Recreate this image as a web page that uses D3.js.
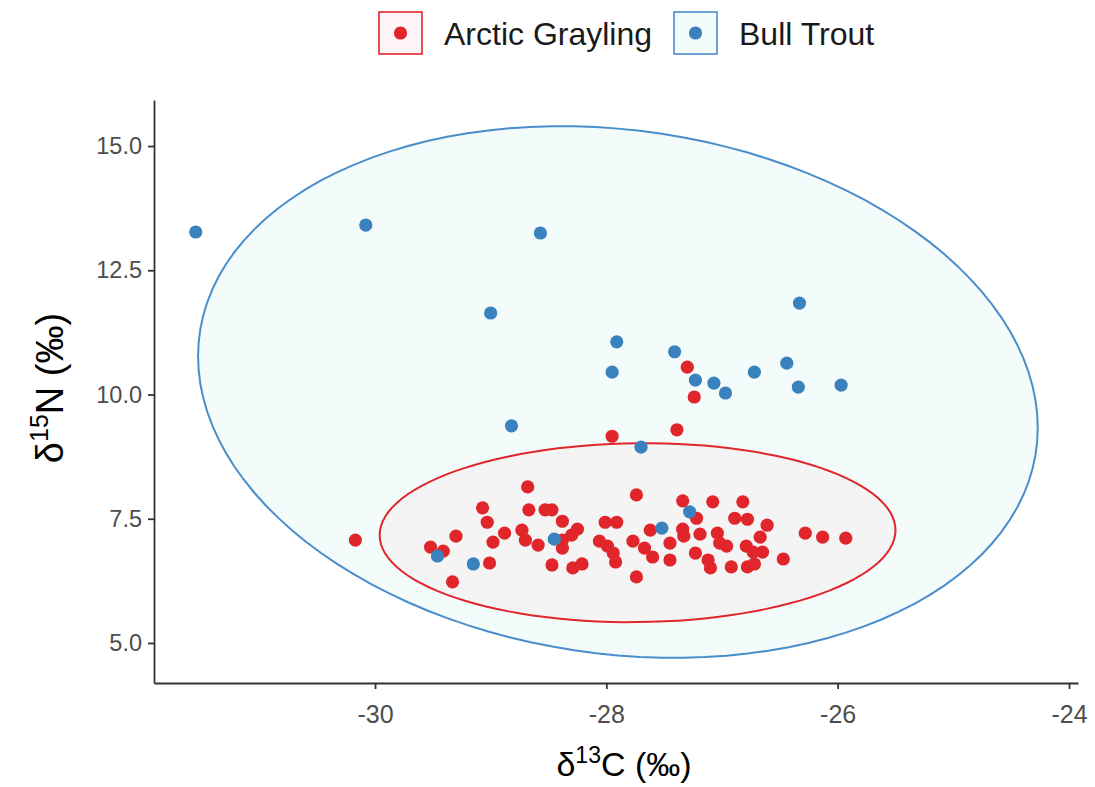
<!DOCTYPE html>
<html>
<head>
<meta charset="utf-8">
<script src="https://cdn.jsdelivr.net/npm/d3@7"></script>
<style>
  body { margin: 0; background: #fff; }
  text { font-family: "Liberation Sans", Arial, sans-serif; }
</style>
</head>
<body>
<svg id="chart" width="1095" height="787"></svg>
<script>
const species = ["Arctic Grayling", "Bull Trout"];
const colors = { "Arctic Grayling": "#E0262B", "Bull Trout": "#3A82BE" };
const strokes = { "Arctic Grayling": "#E0262B", "Bull Trout": "#4A8DCB" };
const keyFill = { "Arctic Grayling": "#FDF5F5", "Bull Trout": "#F3FBFB" };
const ellipseFill = { "Arctic Grayling": "#F4F4F4", "Bull Trout": "#F4FBFB" };

// d13C / d15N
const graylingC = [-30.17, -29.52, -29.41, -29.30, -29.33, -29.01, -28.98, -28.88, -29.07, -29.03,
  -28.68, -28.67, -28.73, -28.70, -28.59, -28.53, -28.47, -28.38, -28.38, -28.38,
  -28.30, -28.25, -28.47, -28.29, -28.21, -28.01, -27.91, -28.06, -27.99, -27.94,
  -27.92, -27.77, -27.74, -27.74, -27.67, -27.62, -27.60, -27.45, -27.45, -27.34,
  -27.22, -27.08, -26.82, -26.89, -26.78, -27.34, -27.33, -27.19, -27.04, -27.23,
  -27.12, -27.10, -27.02, -26.96, -26.92, -26.79, -26.78, -26.73, -26.67, -26.61,
  -26.72, -26.65, -26.47, -26.28, -26.13, -25.93, -27.30, -27.24, -27.95, -27.39];
const graylingN = [7.07, 6.93, 6.85, 7.15, 6.23, 6.61, 7.03, 7.21, 7.72, 7.43,
  8.14, 7.68, 7.27, 7.07, 6.97, 7.68, 7.68, 7.45, 7.07, 6.91,
  7.17, 7.29, 6.57, 6.51, 6.59, 7.43, 7.43, 7.05, 6.95, 6.81,
  6.63, 7.05, 6.33, 7.98, 6.91, 7.27, 6.73, 7.01, 6.67, 7.86,
  7.51, 7.84, 7.84, 7.51, 7.49, 7.29, 7.15, 7.19, 7.21, 6.81,
  6.67, 6.51, 7.01, 6.95, 6.53, 6.95, 6.53, 6.83, 7.13, 7.37,
  6.59, 6.83, 6.69, 7.21, 7.13, 7.11, 10.55, 9.95, 9.16, 9.29];

const troutC = [-31.55, -30.08, -28.57, -29.00, -27.91, -27.95, -27.41, -27.23, -27.07, -26.97,
  -26.72, -26.44, -26.34, -25.97, -26.33, -28.82, -27.70, -28.45, -29.15, -29.46,
  -27.52, -27.28];
const troutN = [13.27, 13.41, 13.25, 11.64, 11.06, 10.45, 10.86, 10.29, 10.23, 10.03,
  10.45, 10.63, 10.15, 10.19, 11.84, 9.37, 8.94, 7.09, 6.59, 6.75,
  7.31, 7.64];

// ellipse per species: centre, x half-width, y offset at x extreme, remaining y half-height
const ellCx = [-27.73, -27.90];
const ellCy = [7.22, 10.05];
const ellA = [2.23, 3.63];
const ellB = [0.05, -0.72];
const ellC = [1.80, 5.30];

const xTicks = [-30, -28, -26, -24];
const yTicks = [5.0, 7.5, 10.0, 12.5, 15.0];

const svg = d3.select("#chart");
const margin = { left: 154, right: 1078, top: 100, bottom: 683 };

const x = d3.scaleLinear().domain([-31.911, -23.922]).range([margin.left, margin.right]);
const y = d3.scaleLinear().domain([4.195, 15.926]).range([margin.bottom, margin.top]);

const points = [];
graylingC.forEach((c, i) => points.push({ sp: "Arctic Grayling", c: c, n: graylingN[i] }));
troutC.forEach((c, i) => points.push({ sp: "Bull Trout", c: c, n: troutN[i] }));

// ellipses, bull trout underneath
const line = d3.line().x(d => x(d[0])).y(d => y(d[1])).curve(d3.curveLinearClosed);
[1, 0].forEach(k => {
  const pts = d3.range(120).map(j => {
    const t = j / 120 * 2 * Math.PI;
    return [ellCx[k] + ellA[k] * Math.cos(t), ellCy[k] + ellB[k] * Math.cos(t) + ellC[k] * Math.sin(t)];
  });
  svg.append("path")
    .attr("d", line(pts))
    .attr("fill", ellipseFill[species[k]])
    .attr("stroke", strokes[species[k]])
    .attr("stroke-width", 2);
});

svg.append("g")
  .selectAll("circle")
  .data(points)
  .enter()
  .append("circle")
  .attr("cx", d => x(d.c))
  .attr("cy", d => y(d.n))
  .attr("r", 6.6)
  .attr("fill", d => colors[d.sp]);

// axes
const xAxis = svg.append("g")
  .attr("transform", `translate(0,${margin.bottom})`)
  .call(d3.axisBottom(x).tickValues(xTicks).tickSize(6).tickSizeOuter(0).tickPadding(16));
const yAxis = svg.append("g")
  .attr("transform", `translate(${margin.left},0)`)
  .call(d3.axisLeft(y).tickValues(yTicks).tickSize(6).tickSizeOuter(0).tickPadding(6).tickFormat(d3.format(".1f")));

[xAxis, yAxis].forEach(a => {
  a.select(".domain").attr("stroke", "#333").attr("stroke-width", 1.8);
  a.selectAll(".tick line").attr("stroke", "#333").attr("stroke-width", 1.8);
  a.selectAll(".tick text").attr("fill", "#4D4D4D")
    .style("font-family", "'Liberation Sans', Arial, sans-serif");
});
xAxis.selectAll(".tick text").style("font-size", "25px").text(d => String(d));
yAxis.selectAll(".tick text").style("font-size", "23.5px");

// axis titles
const xt = svg.append("text")
  .attr("x", 624)
  .attr("y", 776)
  .attr("text-anchor", "middle")
  .style("font-size", "34px")
  .attr("fill", "#000");
xt.append("tspan").text("δ");
xt.append("tspan").attr("dy", -13).style("font-size", "23px").text("13");
xt.append("tspan").attr("dy", 13).text("C (‰)");

const yt = svg.append("text")
  .attr("transform", `translate(63,388) rotate(-90)`)
  .attr("text-anchor", "middle")
  .style("font-size", "38px")
  .attr("fill", "#000");
yt.append("tspan").text("δ");
yt.append("tspan").attr("dy", -15).style("font-size", "25px").text("15");
yt.append("tspan").attr("dy", 15).text("N (‰)");

// legend on top
const legendX = [379, 674];
const legend = svg.append("g");
species.forEach((s, i) => {
  const g = legend.append("g").attr("transform", `translate(${legendX[i]},12)`);
  g.append("rect").attr("x", 0).attr("y", 0).attr("width", 43).attr("height", 42)
    .attr("fill", keyFill[s]).attr("stroke", strokes[s]).attr("stroke-width", 1.6);
  g.append("circle").attr("cx", 21.5).attr("cy", 21).attr("r", 6.6).attr("fill", colors[s]);
  g.append("text").attr("x", 65).attr("y", 33).text(s).style("font-size", "32px").attr("fill", "#1A1A1A");
});
</script>
</body>
</html>
